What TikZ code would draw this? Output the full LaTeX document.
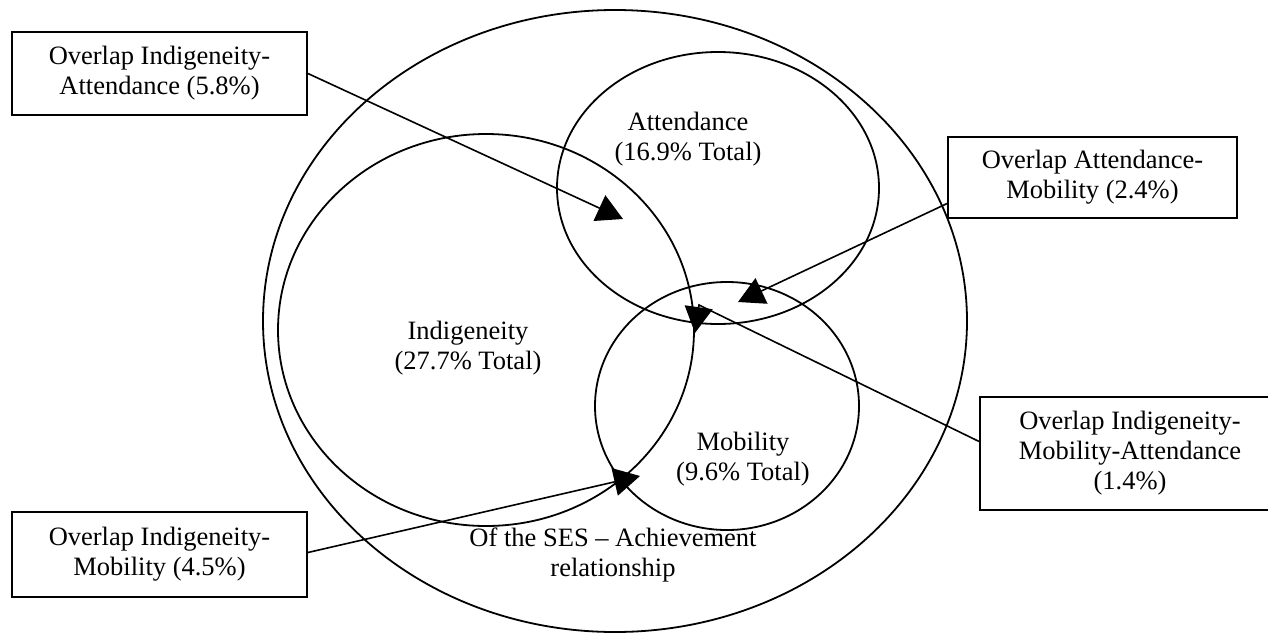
\documentclass[tikz,border=0pt]{standalone}
\usepackage{fontspec}
\setmainfont{Liberation Serif}
\usetikzlibrary{arrows.meta,calc}
\begin{document}
\begin{tikzpicture}[x=1pt,y=-1pt,
  lbl/.style={align=center,font=\fontsize{26.5}{30}\selectfont,inner sep=0pt},
  box/.style={draw,line width=1.8pt,align=center,font=\fontsize{26.5}{30}\selectfont,inner sep=0pt},
  conn/.style={line width=1.6pt,-{Triangle[length=26pt,width=28pt]}},
  ring/.style={line width=1.8pt}]
\useasboundingbox (0,0) rectangle (1268,632);
% circles
\draw[ring] (615,321) ellipse [x radius=352pt, y radius=311pt];
\draw[ring] (486,330) ellipse [x radius=208pt, y radius=196pt];
\draw[ring] (727,406) ellipse [x radius=132pt, y radius=124pt];
\draw[ring] (718,188) ellipse [x radius=161pt, y radius=136pt];
% labels
\node[lbl] (att) at (688,139) {Attendance\\(16.9\% Total)};
\node[lbl] (ind) at (468,348) {Indigeneity\\(27.7\% Total)};
\node[lbl] (mob) at (743,459) {Mobility\\(9.6\% Total)};
\node[lbl] (ses) at (613,555) {Of the SES -- Achievement\\relationship};
% boxes
\node[box, minimum width=295pt, minimum height=83pt] (b1) at (159.5,73.5) {Overlap Indigeneity-\\Attendance (5.8\%)};
\node[box, minimum width=289pt, minimum height=81pt] (b2) at (1092.5,177.5) {Overlap Attendance-\\Mobility (2.4\%)};
\node[box, minimum width=300pt, minimum height=113pt] (b3) at (1130,453.5) {Overlap Indigeneity-\\Mobility-Attendance\\(1.4\%)};
\node[box, minimum width=295pt, minimum height=85pt] (b4) at (159.5,554.5) {Overlap Indigeneity-\\Mobility (4.5\%)};
% arrow ends
\coordinate (t1) at (623,219);
\coordinate (t2) at (738,302);
\coordinate (k3) at (699,305);
\coordinate (t3) at (695,333);
\coordinate (t4) at (640,476);
% connectors
\draw[conn] (b1.east) -- (t1);
\draw[conn] ($(b2.west)+(0,26)$) -- (t2);
\draw[conn] ($(b3.west)+(0,-12)$) -- (k3) -- (t3);
\draw[conn] ($(b4.east)+(0,-2)$) -- (t4);
\end{tikzpicture}
\end{document}
